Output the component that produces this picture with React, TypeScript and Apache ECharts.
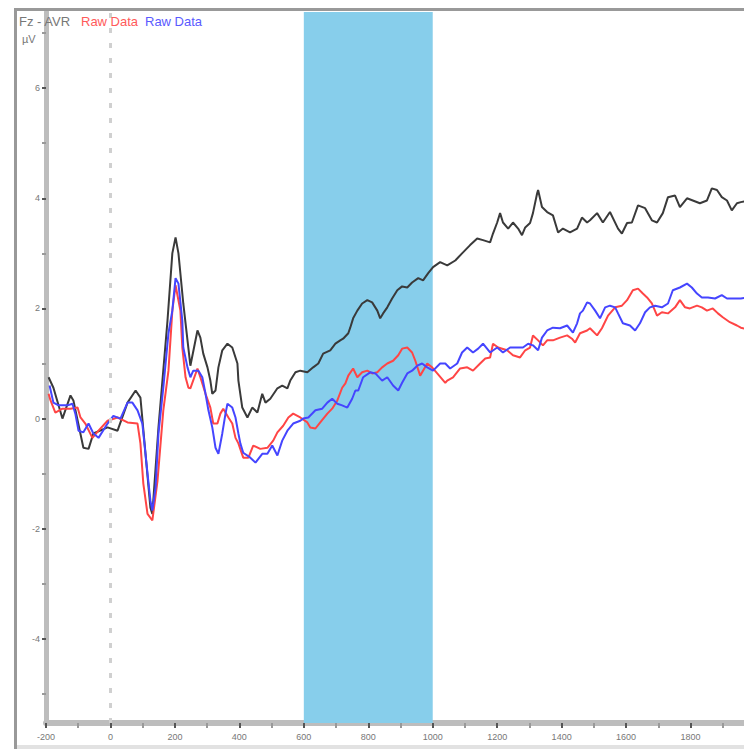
import React, { useEffect, useRef } from "react";
import * as echarts from "echarts";

// time (ms), amplitude (µV)
const blackData: [number, number][] = [
  [-192, 0.75], [-177, 0.56], [-149, 0], [-124, 0.42], [-115, 0.33], [-84, -0.53], [-68, -0.55], [-53, -0.27],
  [-9, -0.16], [22, -0.22], [53, 0.29], [78, 0.51], [93, 0.38], [124, -1.62], [130, -1.73], [149, -0.16],
  [177, 1.78], [192, 3.0], [202, 3.29], [211, 3.0], [226, 2.09], [248, 0.96], [270, 1.6], [279, 1.47],
  [288, 1.18], [301, 0.93], [310, 0.69], [316, 0.45], [326, 0.51], [335, 0.93], [347, 1.24], [363, 1.36],
  [378, 1.29], [394, 1.0], [397, 0.69], [409, 0.2], [425, 0.02], [440, 0.2], [456, 0.11], [471, 0.45],
  [481, 0.29], [496, 0.36], [518, 0.55], [533, 0.6], [549, 0.55], [558, 0.69], [574, 0.84], [589, 0.87],
  [611, 0.84], [629, 0.93], [645, 1.0], [660, 1.18], [682, 1.24], [698, 1.36], [713, 1.42], [722, 1.45],
  [738, 1.55], [744, 1.65], [753, 1.82], [766, 1.96], [781, 2.09], [797, 2.15], [812, 2.11], [828, 1.96],
  [837, 1.82], [846, 1.91], [859, 2.02], [874, 2.18], [890, 2.33], [905, 2.4], [921, 2.38], [936, 2.47],
  [955, 2.55], [970, 2.51], [986, 2.64], [1001, 2.75], [1023, 2.84], [1045, 2.78], [1070, 2.87], [1091, 3.0],
  [1116, 3.15], [1138, 3.27], [1156, 3.24], [1178, 3.2], [1187, 3.36], [1200, 3.56], [1209, 3.73], [1218, 3.56],
  [1234, 3.45], [1249, 3.56], [1265, 3.45], [1277, 3.33], [1287, 3.47], [1302, 3.55], [1311, 3.73], [1324, 4.09],
  [1327, 4.15], [1339, 3.84], [1355, 3.75], [1373, 3.69], [1389, 3.38], [1404, 3.45], [1426, 3.38], [1448, 3.45],
  [1463, 3.65], [1479, 3.56], [1488, 3.6], [1510, 3.73], [1528, 3.56], [1550, 3.75], [1575, 3.45], [1587, 3.36],
  [1603, 3.55], [1618, 3.56], [1637, 3.87], [1659, 3.82], [1680, 3.6], [1696, 3.56], [1714, 3.73], [1730, 4.02],
  [1752, 4.05], [1767, 3.84], [1789, 4.0], [1807, 3.96], [1829, 3.91], [1851, 3.96], [1866, 4.18], [1882, 4.15],
  [1897, 4.02], [1913, 3.96], [1928, 3.78], [1944, 3.91], [1956, 3.93], [1975, 3.95],
];

const redData: [number, number][] = [
  [-192, 0.45], [-186, 0.33], [-171, 0.11], [-149, 0.18], [-124, 0.18], [-102, 0.2], [-93, 0.02], [-78, -0.09],
  [-56, -0.35], [-37, -0.22], [-9, -0.04], [22, 0.02], [53, -0.07], [84, -0.09], [93, -0.45], [102, -1.18],
  [115, -1.73], [130, -1.85], [146, -1.13], [164, 0.15], [180, 0.87], [192, 1.96], [202, 2.42], [217, 1.96],
  [223, 1.29], [233, 0.75], [242, 0.56], [248, 0.55], [270, 0.91], [279, 0.75], [295, 0.45], [310, 0.2],
  [319, -0.09], [332, -0.09], [341, 0.09], [350, 0.18], [366, 0.02], [378, -0.09], [388, -0.35], [397, -0.45],
  [412, -0.71], [428, -0.71], [443, -0.49], [465, -0.55], [487, -0.53], [505, -0.4], [518, -0.25], [536, -0.13],
  [552, 0.02], [567, 0.09], [589, 0.02], [611, -0.07], [620, -0.16], [636, -0.18], [651, -0.07], [673, 0.09],
  [688, 0.18], [704, 0.33], [719, 0.56], [729, 0.64], [738, 0.78], [753, 0.91], [766, 0.75], [781, 0.84],
  [797, 0.87], [812, 0.82], [828, 0.84], [843, 0.93], [859, 1.0], [877, 1.05], [893, 1.15], [905, 1.27],
  [921, 1.29], [936, 1.2], [946, 1.05], [961, 0.78], [983, 1.0], [998, 0.93], [1014, 0.82], [1039, 0.65],
  [1045, 0.69], [1063, 0.75], [1085, 0.91], [1107, 0.93], [1125, 0.87], [1147, 1.0], [1163, 1.09], [1178, 1.11],
  [1187, 1.36], [1203, 1.29], [1231, 1.24], [1249, 1.15], [1271, 1.11], [1287, 1.24], [1302, 1.29], [1311, 1.51],
  [1327, 1.42], [1342, 1.33], [1355, 1.42], [1373, 1.42], [1395, 1.47], [1417, 1.51], [1432, 1.45], [1442, 1.38],
  [1457, 1.55], [1479, 1.6], [1488, 1.64], [1510, 1.51], [1525, 1.64], [1544, 1.87], [1566, 2.02], [1587, 2.05],
  [1603, 2.15], [1621, 2.33], [1637, 2.36], [1652, 2.27], [1665, 2.2], [1680, 2.09], [1696, 1.87], [1711, 1.93],
  [1730, 1.91], [1752, 2.02], [1767, 2.15], [1783, 2.02], [1798, 2.0], [1820, 2.05], [1835, 2.02], [1851, 1.96],
  [1869, 2.0], [1885, 1.91], [1900, 1.84], [1922, 1.75], [1944, 1.69], [1956, 1.65], [1975, 1.62],
];

const blueData: [number, number][] = [
  [-189, 0.6], [-177, 0.29], [-161, 0.24], [-133, 0.24], [-118, 0.27], [-109, 0.09], [-99, -0.22], [-84, -0.25],
  [-68, -0.09], [-53, -0.27], [-37, -0.35], [-9, -0.09], [9, 0.05], [31, 0], [53, 0.29], [68, 0.29],
  [84, 0.15], [99, -0.09], [115, -1.0], [124, -1.49], [130, -1.67], [140, -1.25], [149, -0.27], [164, 0.56],
  [180, 1.55], [192, 1.96], [202, 2.55], [211, 2.45], [223, 1.78], [226, 1.29], [239, 0.93], [248, 0.75],
  [257, 0.87], [273, 0.87], [285, 0.75], [295, 0.45], [304, 0.15], [316, -0.16], [326, -0.53], [335, -0.64],
  [347, -0.27], [357, 0.09], [363, 0.27], [378, 0.2], [388, 0.02], [397, -0.27], [403, -0.45], [412, -0.62],
  [434, -0.71], [450, -0.8], [471, -0.64], [487, -0.64], [502, -0.49], [518, -0.67], [533, -0.4], [549, -0.22],
  [567, -0.09], [589, -0.04], [598, 0], [614, 0.02], [636, 0.15], [657, 0.18], [673, 0.29], [688, 0.36],
  [704, 0.27], [719, 0.24], [735, 0.2], [750, 0.36], [760, 0.51], [769, 0.51], [784, 0.75], [806, 0.84],
  [822, 0.82], [843, 0.69], [859, 0.75], [877, 0.6], [893, 0.51], [905, 0.65], [921, 0.82], [936, 0.87],
  [952, 0.96], [967, 1.0], [983, 0.93], [1001, 0.87], [1023, 1.0], [1039, 1.0], [1054, 0.91], [1076, 1.0],
  [1091, 1.2], [1107, 1.29], [1125, 1.2], [1141, 1.27], [1156, 1.36], [1178, 1.2], [1200, 1.29], [1218, 1.2],
  [1240, 1.29], [1262, 1.29], [1280, 1.29], [1296, 1.36], [1311, 1.33], [1327, 1.24], [1339, 1.47], [1355, 1.6],
  [1373, 1.65], [1395, 1.64], [1417, 1.69], [1435, 1.56], [1448, 1.73], [1457, 1.91], [1466, 1.96], [1479, 2.11],
  [1488, 2.09], [1504, 1.96], [1519, 1.82], [1535, 2.02], [1550, 2.05], [1566, 2.02], [1575, 1.91], [1590, 1.73],
  [1612, 1.69], [1628, 1.6], [1643, 1.73], [1659, 1.93], [1674, 2.02], [1690, 2.05], [1711, 2.02], [1730, 2.09],
  [1745, 2.33], [1767, 2.38], [1789, 2.45], [1804, 2.38], [1820, 2.27], [1835, 2.2], [1854, 2.2], [1876, 2.18],
  [1897, 2.24], [1913, 2.18], [1931, 2.18], [1956, 2.18], [1975, 2.2],
];

const bandRange: [number, number] = [600, 1000];
const yLabelValues = [-4, -2, 0, 2, 4, 6];
const yMajorTicks = [-4, -2, 0, 2, 4, 6];
const yMinorTicks = [-5, -3, -1, 1, 3, 5, 7];
const xRange: [number, number] = [-200, 2000];
const yRange: [number, number] = [-5.527, 7.382];
const legendTitle = "Fz - AVR";
const legendRed = "Raw Data";
const legendBlue = "Raw Data";
const yUnit = "µV";

export default function App() {
  const ref = useRef<HTMLDivElement>(null);
  useEffect(() => {
    if (!ref.current) return;
    const chart = echarts.init(ref.current, undefined, { renderer: "svg" });
    const font = "Liberation Sans, Arial, sans-serif";
    const lineSeries = (name: string, data: [number, number][], color: string) => ({
      type: "line",
      name,
      data,
      symbol: "none",
      lineStyle: { color, width: 2 },
      itemStyle: { color },
      z: 3,
    });
    chart.setOption({
      animation: false,
      backgroundColor: "#ffffff",
      grid: { left: 46, right: 45, top: 12, bottom: 26 },
      xAxis: {
        type: "value",
        min: xRange[0],
        max: xRange[1],
        interval: 200,
        axisLine: { show: true, onZero: false, lineStyle: { color: "#bdbdbd", width: 6 } },
        axisTick: { show: true, length: 5, lineStyle: { color: "#555", width: 2 } },
        minorTick: { show: true, splitNumber: 2, length: 5, lineStyle: { color: "#999", width: 2 } },
        splitLine: { show: false },
        axisLabel: {
          fontSize: 9,
          color: "#777",
          margin: 9,
          fontFamily: font,
          showMaxLabel: false,
          formatter: (v: number) => String(v),
        },
      },
      yAxis: [
        {
          type: "value",
          min: yRange[0],
          max: yRange[1],
          axisLine: { show: true, onZero: false, lineStyle: { color: "#bdbdbd", width: 5 } },
          axisTick: { show: true, length: 4, customValues: yMajorTicks, lineStyle: { color: "#555", width: 2 } },
          splitLine: { show: false },
          axisLabel: {
            fontSize: 9,
            color: "#777",
            margin: 6,
            customValues: yLabelValues,
            fontFamily: font,
            formatter: (v: number) => String(v),
          },
        },
        {
          type: "value",
          min: yRange[0],
          max: yRange[1],
          position: "left",
          axisLine: { show: false, onZero: false },
          axisTick: { show: true, length: 4, customValues: yMinorTicks, lineStyle: { color: "#999", width: 2 } },
          splitLine: { show: false },
          axisLabel: { show: false },
        },
      ],
      series: [
        {
          type: "line",
          data: [],
          symbol: "none",
          z: 1,
          markArea: {
            silent: true,
            itemStyle: { color: "#87CEEB", opacity: 1 },
            data: [[{ xAxis: bandRange[0] }, { xAxis: bandRange[1] }]],
          },
          markLine: {
            silent: true,
            symbol: "none",
            label: { show: false },
            lineStyle: { color: "#d0d0d0", width: 3, type: [5, 10] },
            data: [{ xAxis: 0 }],
          },
        },
        lineSeries("black", blackData, "#3a3a3a"),
        lineSeries("red", redData, "#ff4545"),
        lineSeries("blue", blueData, "#4545ff"),
      ],
      graphic: [
        { type: "rect", shape: { x: 14, y: 8, width: 800, height: 3 }, style: { fill: "#999" }, z: 10 },
        { type: "rect", shape: { x: 14, y: 8, width: 3, height: 741 }, style: { fill: "#999" }, z: 10 },
        { type: "rect", shape: { x: 17, y: 745, width: 800, height: 4 }, style: { fill: "#e2e2e2" }, z: 10 },
        { type: "text", x: 19, y: 15, z: 10, style: { text: legendTitle, fontSize: 13, fill: "#777", fontFamily: font } },
        { type: "text", x: 81, y: 15, z: 10, style: { text: legendRed, fontSize: 13, fill: "#ff5a5a", fontFamily: font } },
        { type: "text", x: 145, y: 15, z: 10, style: { text: legendBlue, fontSize: 13, fill: "#5a5aff", fontFamily: font } },
        { type: "text", x: 22, y: 33, z: 10, style: { text: yUnit, fontSize: 11, fill: "#777", fontFamily: font } },
      ],
    });
    return () => chart.dispose();
  }, []);
  return (
    <div
      style={{
        position: "fixed",
        left: 0,
        top: 0,
        width: 744,
        height: 749,
        overflow: "hidden",
        background: "#fff",
      }}
    >
      <div ref={ref} style={{ width: 800, height: 749 }} />
    </div>
  );
}
